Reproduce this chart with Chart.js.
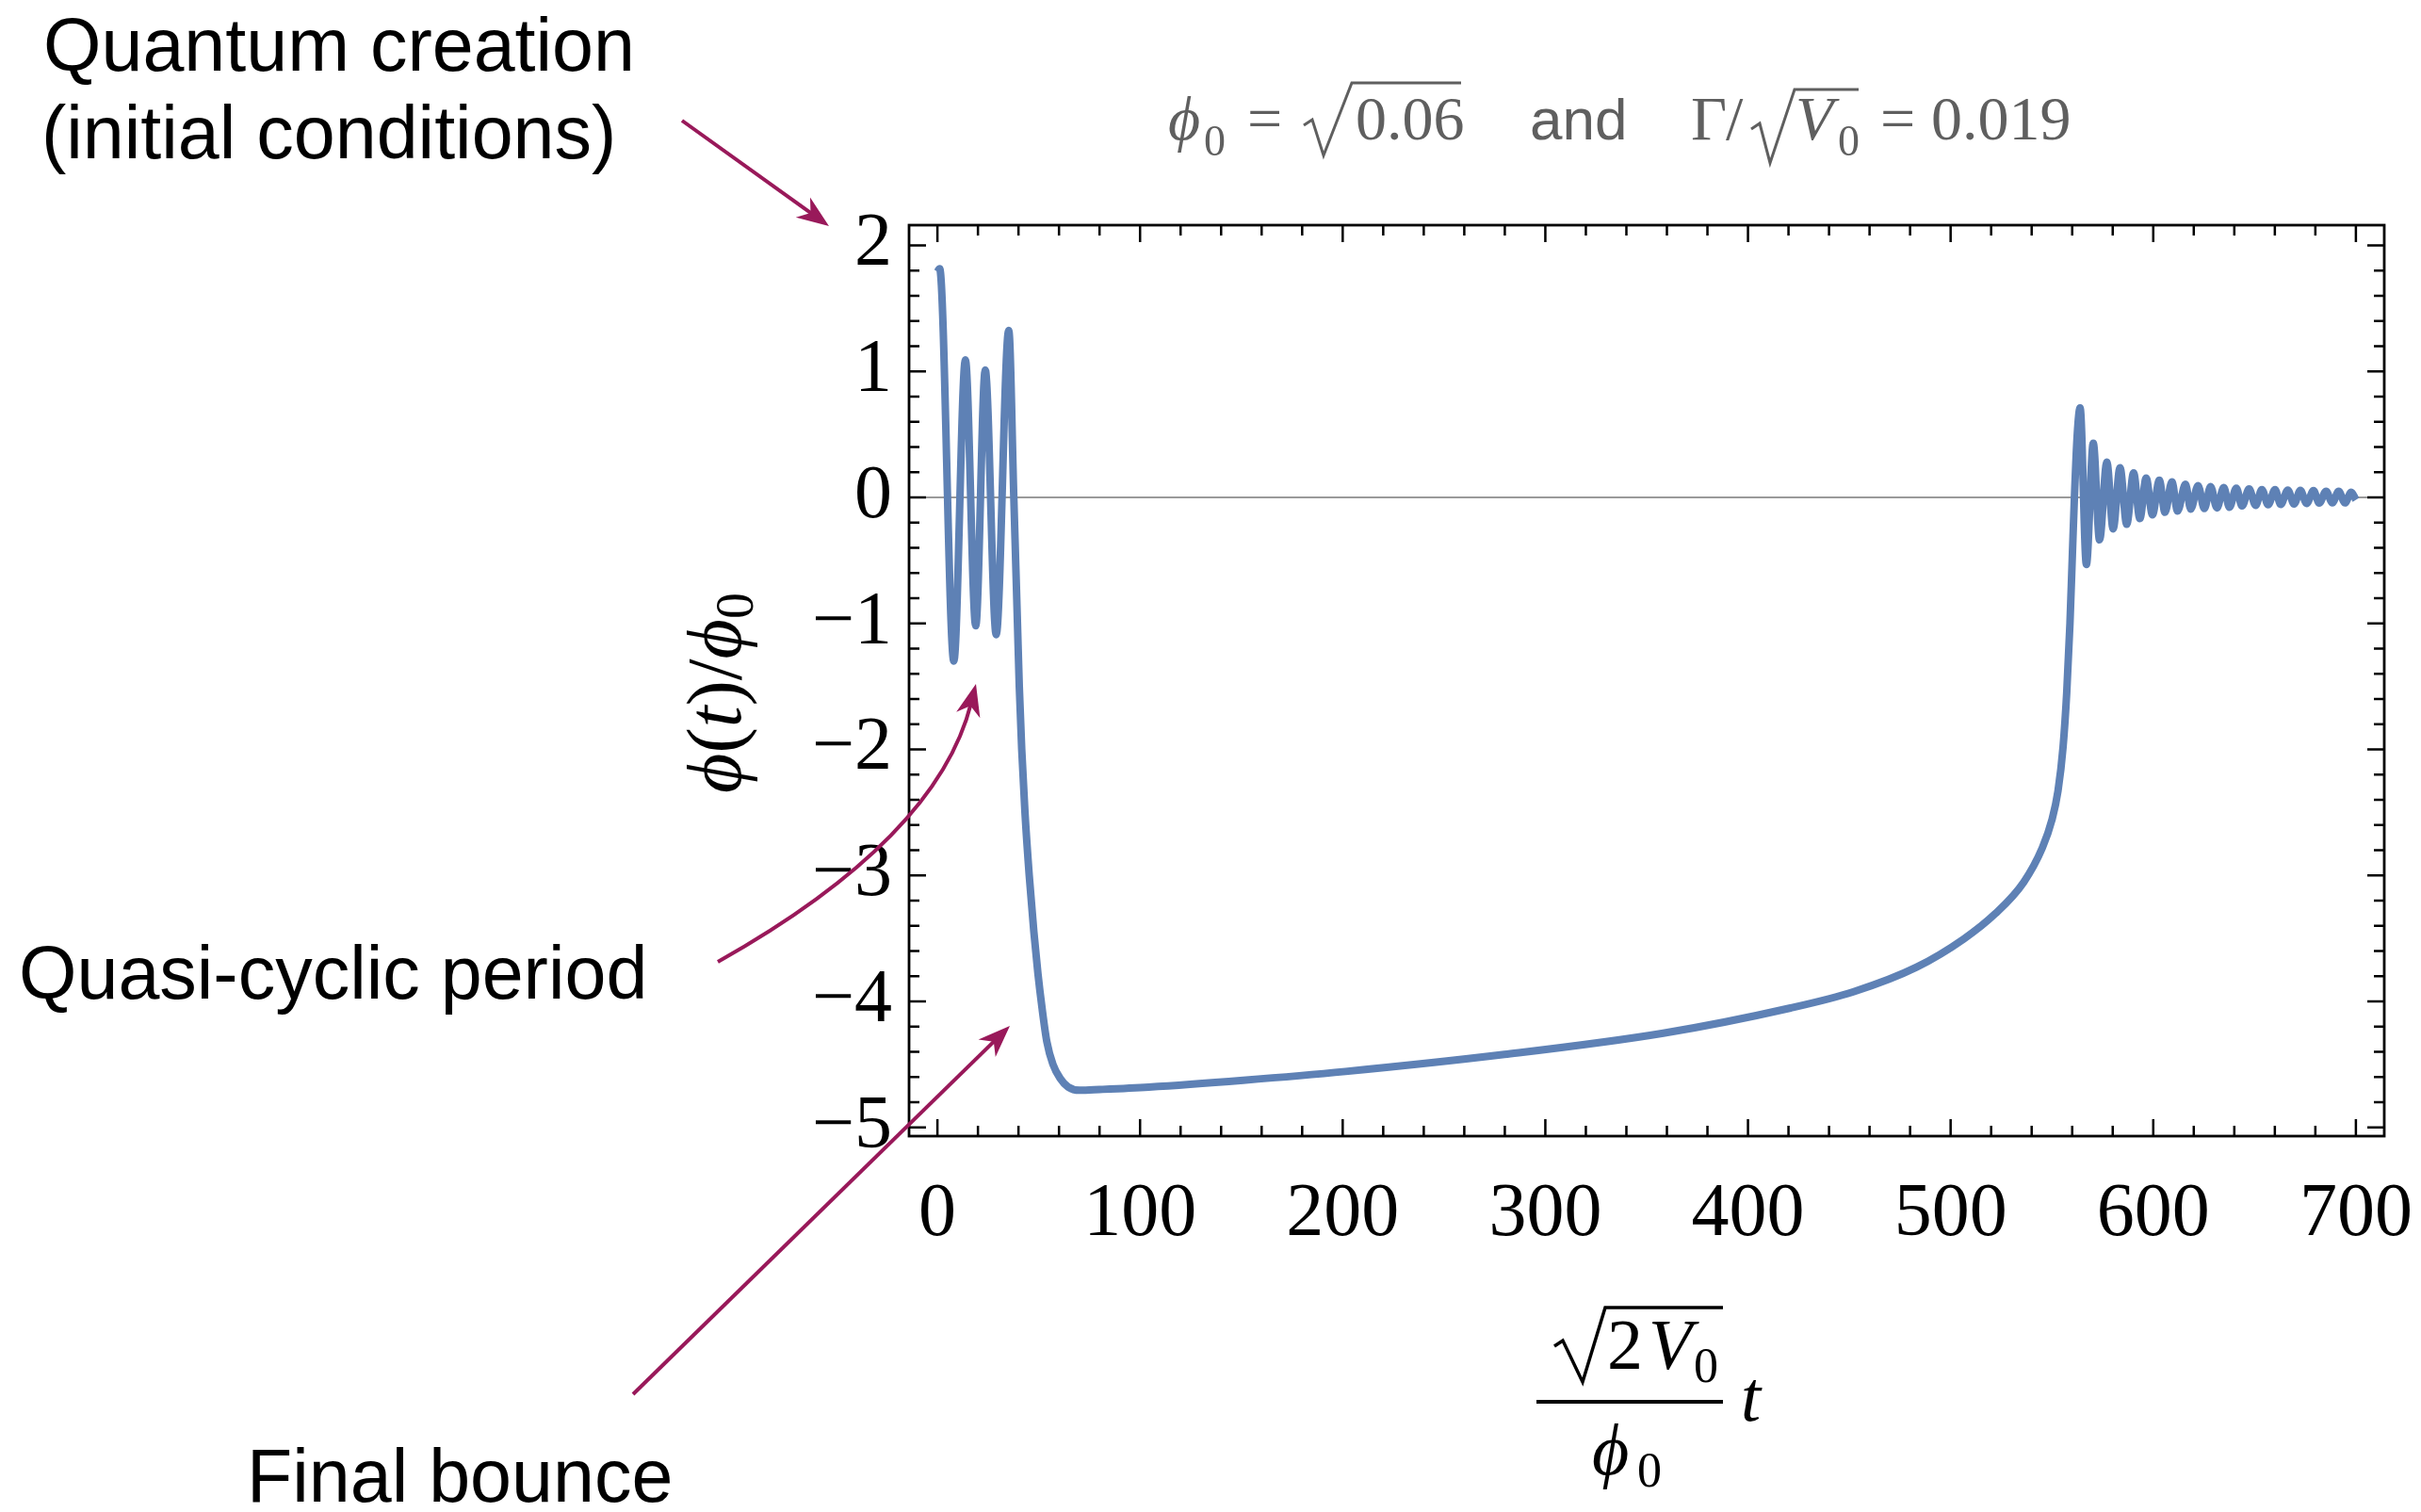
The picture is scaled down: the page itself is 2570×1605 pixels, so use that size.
<!DOCTYPE html>
<html>
<head>
<meta charset="utf-8">
<title>phi(t)/phi0</title>
<script src="https://cdn.jsdelivr.net/npm/chart.js@4.4.0/dist/chart.umd.min.js"></script>
<style>
html, body { margin: 0; padding: 0; background: #fff; overflow: hidden; }
#wrap { position: relative; width: 2570px; height: 1605px; }
</style>
</head>
<body>
<div id="wrap"><canvas id="c"></canvas></div>
<script>
// values: time (x) and phi/phi0 (y)
const tValues = [
  0, 1.1, 8.1, 13.8, 18.9, 23.6, 29.0, 35.2, 37.7, 38.6, 39.5, 40.4, 41.6, 43.2, 45.3, 47.6,
  49.6, 51.6, 54.0, 57.0, 60.5, 64.5, 70.2, 80, 104.3, 150.9, 201.4, 279.8, 358.2, 421, 452.1,
  483.2, 506.5, 522, 536, 545.3, 550, 553, 555.5, 557.3, 558.9, 560.1, 561.1, 562.5, 563.9,
  567.0, 570.4, 573.5, 577.1, 580.2, 583.6, 586.9, 590.3, 593.4, 596.5, 599.6, 603.0,
  605.8, 609.2, 612.0, 615.9, 618.5, 622.1, 625.2, 628.3, 631.4, 634.8, 637.6, 641.0,
  643.8, 647.3, 650.5, 653.6, 656.7, 660.1, 662.9, 666.4, 669.5, 672.6, 675.7, 679.1,
  681.9, 685.3, 688.4, 691.5, 694.6, 697.7, 700.0
];
const phiValues = [
  1.79, 1.815, -1.30, 1.09, -1.02, 1.01, -1.09, 1.325, 0, -0.5, -1.0, -1.5, -2.0, -2.5, -3.0, -3.45,
  -3.78, -4.05, -4.32, -4.50, -4.61, -4.68, -4.706, -4.70, -4.681, -4.627, -4.557, -4.422, -4.253, -4.053, -3.924,
  -3.729, -3.505, -3.305, -3.056, -2.78, -2.56, -2.33, -1.98, -1.55, -1.0, -0.45, 0, 0.5, 0.709,
  -0.533, 0.429, -0.338, 0.280, -0.251, 0.235, -0.214, 0.193, -0.169, 0.153, -0.139, 0.135,
  -0.119, 0.123, -0.109, 0.103, -0.094, 0.093, -0.089, 0.085, -0.084, 0.078, -0.079, 0.073,
  -0.069, 0.066, -0.064, 0.061, -0.059, 0.061, -0.057, 0.058, -0.054, 0.055, -0.049, 0.053,
  -0.046, 0.048, -0.044, 0.048, -0.044, 0.040, -0.02
];
const xTickValues = [0, 100, 200, 300, 400, 500, 600, 700];
const yTickValues = [-5, -4, -3, -2, -1, 0, 1, 2];
const xLimits = [-14, 714];
const yLimits = [-5.07, 2.16];

const SERIF = '"Liberation Serif", "DejaVu Serif", serif';
const SANS = '"Liberation Sans", Arial, sans-serif';
const ARROW = '#99195a';

function txt(ctx, s, x, y, font){ ctx.font = font; ctx.fillText(s, x, y); return x + ctx.measureText(s).width; }

function radical(ctx, x0, y0, xb, yb, xt, yt, xe){
  ctx.beginPath();
  ctx.moveTo(x0, y0 + 3); ctx.lineTo(x0 + 9, y0 - 3);
  ctx.lineTo(xb, yb); ctx.lineTo(xt, yt); ctx.lineTo(xe, yt);
  ctx.stroke();
}

function head(ctx, x, y, ang){
  ctx.save(); ctx.translate(x, y); ctx.rotate(ang);
  ctx.beginPath(); ctx.moveTo(0, 0); ctx.lineTo(-34, -13); ctx.lineTo(-24, 0); ctx.lineTo(-34, 13); ctx.closePath();
  ctx.fill(); ctx.restore();
}
function arrow(ctx, x0, y0, x1, y1){
  const a = Math.atan2(y1 - y0, x1 - x0);
  ctx.beginPath(); ctx.moveTo(x0, y0); ctx.lineTo(x1 - Math.cos(a) * 22, y1 - Math.sin(a) * 22); ctx.stroke();
  head(ctx, x1, y1, a);
}

// frame with inward ticks on all four sides, like the original
const framePlugin = {
  id: 'frame',
  afterDraw(chart){
    const { ctx, chartArea: a, scales: { x, y } } = chart;
    ctx.save();
    ctx.strokeStyle = '#000'; ctx.lineWidth = 2.5;
    ctx.beginPath();
    for (let i = 0; i <= 35; i++){
      const v = i * 20, px = x.getPixelForValue(v), L = v % 100 === 0 ? 18 : 11;
      ctx.moveTo(px, a.bottom); ctx.lineTo(px, a.bottom - L);
      ctx.moveTo(px, a.top); ctx.lineTo(px, a.top + L);
    }
    for (let i = -25; i <= 10; i++){
      const py = y.getPixelForValue(i / 5), L = i % 5 === 0 ? 18 : 11;
      ctx.moveTo(a.left, py); ctx.lineTo(a.left + L, py);
      ctx.moveTo(a.right, py); ctx.lineTo(a.right - L, py);
    }
    ctx.stroke();
    ctx.lineWidth = 2.8;
    ctx.strokeRect(a.left, a.top, a.right - a.left, a.bottom - a.top);
    ctx.restore();
  }
};

// title, axis labels and the annotations
const notesPlugin = {
  id: 'notes',
  afterDraw(chart){
    const ctx = chart.ctx;
    ctx.save();
    ctx.textAlign = 'left'; ctx.textBaseline = 'alphabetic';

    // title
    ctx.fillStyle = '#5f5f5f'; ctx.strokeStyle = '#5f5f5f'; ctx.lineWidth = 3;
    txt(ctx, '\u03d5', 1240, 148, 'italic 66px ' + SERIF);
    txt(ctx, '0', 1278, 165, '46px ' + SERIF);
    txt(ctx, '=', 1324, 148, '66px ' + SERIF);
    radical(ctx, 1384, 130, 1405, 165, 1435, 88, 1551);
    txt(ctx, '0.06', 1439, 148, '66px ' + SERIF);
    txt(ctx, 'and', 1624, 148, '62px ' + SANS);
    txt(ctx, '\u0393', 1795, 148, '66px ' + SERIF);
    txt(ctx, '/', 1832, 148, '66px ' + SERIF);
    radical(ctx, 1859, 134, 1879, 173, 1905, 95, 1973);
    txt(ctx, 'V', 1906, 148, 'italic 66px ' + SERIF);
    txt(ctx, '0', 1951, 165, '46px ' + SERIF);
    txt(ctx, '=', 1996, 148, '66px ' + SERIF);
    txt(ctx, '0.019', 2050, 148, '66px ' + SERIF);

    // x axis label: sqrt(2 V0)/phi0 t
    ctx.fillStyle = '#000'; ctx.strokeStyle = '#000'; ctx.lineWidth = 3.5;
    radical(ctx, 1650, 1426, 1680, 1467, 1704, 1388, 1829);
    txt(ctx, '2', 1706, 1453, '76px ' + SERIF);
    txt(ctx, 'V', 1750, 1453, 'italic 76px ' + SERIF);
    txt(ctx, '0', 1798, 1467, '52px ' + SERIF);
    ctx.fillRect(1631, 1486, 198, 4);
    txt(ctx, '\u03d5', 1690, 1565, 'italic 76px ' + SERIF);
    txt(ctx, '0', 1738, 1578, '52px ' + SERIF);
    txt(ctx, 't', 1848, 1508, 'italic 76px ' + SERIF);

    // y axis label, rotated
    ctx.save();
    ctx.translate(786, 842); ctx.rotate(-Math.PI / 2);
    let p = 0;
    p = txt(ctx, '\u03d5', p, 0, 'italic 82px ' + SERIF);
    p = txt(ctx, '(', p, 0, '82px ' + SERIF);
    p = txt(ctx, 't', p, 0, 'italic 82px ' + SERIF);
    p = txt(ctx, ')', p, 0, '82px ' + SERIF);
    p = txt(ctx, '/', p, 0, '82px ' + SERIF);
    p = txt(ctx, '\u03d5', p, 0, 'italic 82px ' + SERIF);
    txt(ctx, '0', p, 13, '56px ' + SERIF);
    ctx.restore();

    // annotations
    txt(ctx, 'Quantum creation', 46, 75, '79px ' + SANS);
    txt(ctx, '(initial conditions)', 44, 168, '79px ' + SANS);
    txt(ctx, 'Quasi-cyclic period', 20, 1060, '79px ' + SANS);
    txt(ctx, 'Final bounce', 262, 1594, '79px ' + SANS);

    ctx.strokeStyle = ARROW; ctx.fillStyle = ARROW; ctx.lineWidth = 4;
    arrow(ctx, 724, 128, 880, 240);
    arrow(ctx, 672, 1480, 1072, 1089);
    // curved arrow
    const P0 = [762, 1021], C = [995, 890], P2 = [1036, 726];
    ctx.beginPath(); ctx.moveTo(P0[0], P0[1]);
    ctx.quadraticCurveTo(C[0], C[1], P2[0] - 5, P2[1] + 20);
    ctx.stroke();
    head(ctx, P2[0], P2[1], Math.atan2(P2[1] - C[1], P2[0] - C[0]));
    ctx.restore();
  }
};

new Chart(document.getElementById('c'), {
  type: 'line',
  data: {
    datasets: [{
      data: tValues.map((t, i) => ({ x: t, y: phiValues[i] })),
      borderColor: '#5e81b5',
      borderWidth: 8,
      pointRadius: 0,
      fill: false,
      cubicInterpolationMode: 'monotone',
      borderJoinStyle: 'round'
    }]
  },
  options: {
    responsive: true,
    maintainAspectRatio: false,
    animation: false,
    devicePixelRatio: 1,
    layout: { padding: { left: 0, top: 239, right: 39, bottom: 0 } },
    plugins: { legend: { display: false }, tooltip: { enabled: false }, title: { display: false } },
    scales: {
      x: {
        type: 'linear',
        min: xLimits[0], max: xLimits[1],
        afterBuildTicks: s => { s.ticks = xTickValues.map(v => ({ value: v })); },
        afterFit: s => { s.height = 399; s.paddingLeft = 0; s.paddingRight = 0; },
        grid: { display: false, drawTicks: false },
        border: { display: false },
        ticks: { font: { family: SERIF, size: 80 }, color: '#000', padding: 36, maxRotation: 0, autoSkip: false }
      },
      y: {
        type: 'linear',
        z: 1,
        min: yLimits[0], max: yLimits[1],
        afterBuildTicks: s => { s.ticks = yTickValues.map(v => ({ value: v })); },
        afterFit: s => { s.width = 965; s.paddingTop = 0; s.paddingBottom = 0; },
        grid: {
          drawTicks: false,
          color: c => (c.tick && c.tick.value === 0) ? '#9a9a9a' : 'rgba(0,0,0,0)',
          lineWidth: 2
        },
        border: { display: false },
        ticks: {
          font: { family: SERIF, size: 80 }, color: '#000', padding: 18, autoSkip: false,
          callback: v => v < 0 ? '\u2212' + Math.abs(v) : String(v)
        }
      }
    }
  },
  plugins: [framePlugin, notesPlugin]
});
</script>
</body>
</html>
